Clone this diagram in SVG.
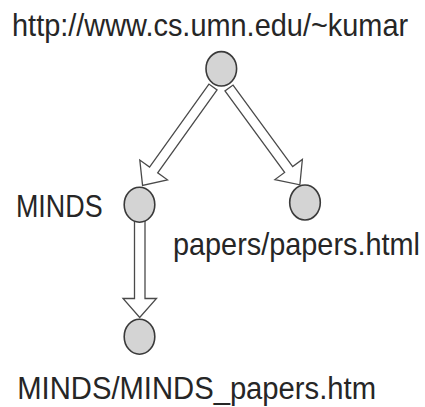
<svg xmlns="http://www.w3.org/2000/svg" width="425" height="407" viewBox="0 0 425 407">
  <style>
    .node { fill: #d4d4d4; stroke: #3a3a3a; stroke-width: 1.6; }
    .link { fill: #ffffff; stroke: #4a4a4a; stroke-width: 1.3; stroke-linejoin: miter; }
    .label { font-family: "Liberation Sans", Arial, sans-serif; font-size: 31px; fill: #262626; }
  </style>
  <rect width="425" height="407" fill="#ffffff"/>

  <!-- hollow block arrows between pages -->
  <g id="connectors">
    <!-- root -> MINDS -->
    <path class="link" transform="translate(213,87) rotate(125.6)" d="M0,-5 L102,-5 L102,-17 L121,0 L102,17 L102,5 L0,5 Z"/>
    <!-- root -> papers/papers.html -->
    <path class="link" transform="translate(229,88) rotate(53.8)" d="M0,-5 L101,-5 L101,-17 L120,0 L101,17 L101,5 L0,5 Z"/>
    <!-- MINDS -> MINDS/MINDS_papers.htm -->
    <path class="link" d="M134.5,218 L134.5,298.5 L123,298.5 L139.7,317.5 L156.5,298.5 L145,298.5 L145,218 Z"/>
  </g>

  <!-- labels use a horizontally condensed face -->
  <g id="root">
    <ellipse class="node" cx="221.3" cy="68.8" rx="15.3" ry="17.2"/>
    <text class="label" transform="scale(0.933,1)" x="12.9" y="36.5">http://www.cs.umn.edu/~kumar</text>
  </g>

  <g id="minds">
    <ellipse class="node" cx="139.5" cy="204.7" rx="15.3" ry="17.5"/>
    <text class="label" transform="scale(0.868,1)" x="18.4" y="216.7">MINDS</text>
  </g>

  <g id="papers">
    <ellipse class="node" cx="305" cy="202.5" rx="15.3" ry="17.5"/>
    <text class="label" transform="scale(0.931,1)" x="185.8" y="255">papers/papers.html</text>
  </g>

  <g id="minds-papers">
    <ellipse class="node" cx="139.5" cy="336.7" rx="15.3" ry="17.5"/>
    <text class="label" transform="scale(0.943,1)" x="18.3" y="399.3">MINDS/MINDS_papers.htm</text>
  </g>
</svg>
